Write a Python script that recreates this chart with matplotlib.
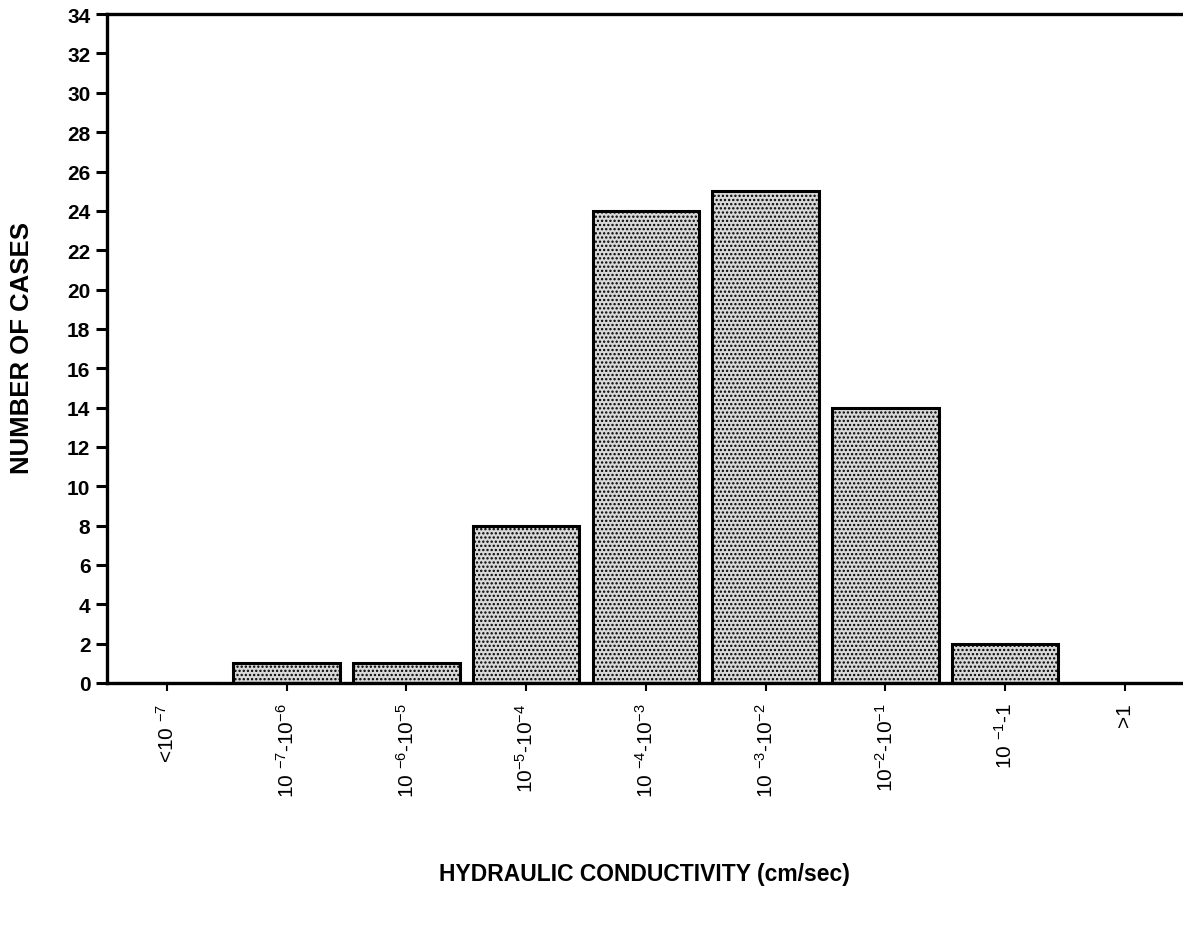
import matplotlib
matplotlib.use('Agg')
import matplotlib.pyplot as plt
import numpy as np

plt.rcParams['font.family'] = ['Liberation Sans', 'DejaVu Sans']
plt.rcParams['mathtext.fontset'] = 'custom'
plt.rcParams['mathtext.rm'] = 'Liberation Sans'
plt.rcParams['mathtext.it'] = 'Liberation Sans'
plt.rcParams['mathtext.default'] = 'regular'
plt.rcParams['hatch.linewidth'] = 1.1

categories = [r'<10 $^{-7}$', r'10 $^{-7}$-10$^{-6}$', r'10 $^{-6}$-10$^{-5}$',
              r'10$^{-5}$-10$^{-4}$', r'10 $^{-4}$-10$^{-3}$', r'10 $^{-3}$-10$^{-2}$',
              r'10$^{-2}$-10$^{-1}$', r'10 $^{-1}$-1', '>1']
counts = [0, 1, 1, 8, 24, 25, 14, 2, 0]

fig = plt.figure(figsize=(11.83, 9.45), dpi=100)
ax = fig.add_axes([0.0905, 0.2762, 0.9095, 0.7078])

x = np.arange(len(categories))
ax.bar(x, counts, width=0.89, color='#d8d8d8', edgecolor='black', linewidth=2.2,
       hatch='....')

ax.set_xlim(-0.5, 8.485)
ax.set_ylim(0, 34)
ax.set_yticks(np.arange(0, 35, 2))
ax.set_xticks(x)
ax.set_xticklabels(categories, rotation=90, fontsize=15, va='top')

for lab in ax.get_yticklabels():
    lab.set_fontweight('bold')
ax.tick_params(axis='y', labelsize=15, width=2.2, length=8, direction='out', pad=4)
ax.tick_params(axis='x', width=1.5, length=6, direction='out', pad=8)

for s in ['left', 'top', 'bottom']:
    ax.spines[s].set_linewidth(2.4)
ax.spines['right'].set_visible(False)

fig.text(0.0186, 0.632, 'NUMBER OF CASES', fontsize=18.5, fontweight='bold',
         rotation=90, ha='center', va='center')
fig.text(0.545, 0.075, 'HYDRAULIC CONDUCTIVITY (cm/sec)', fontsize=16.5,
         fontweight='bold', ha='center', va='center')

fig.savefig('out.png', dpi=100)
